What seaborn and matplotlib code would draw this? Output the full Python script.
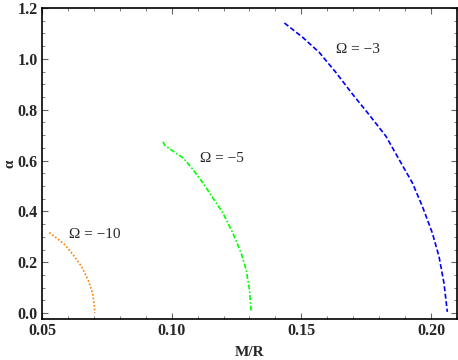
import matplotlib
matplotlib.use("Agg")
import matplotlib.pyplot as plt
import seaborn as sns
import pandas as pd
from matplotlib.ticker import MultipleLocator

sns.set_theme(style="white")
plt.rcParams['font.family'] = ['Liberation Serif', 'DejaVu Serif']
plt.rcParams['mathtext.fontset'] = 'stix'

# Omega = -10 (orange, dotted)
x10 = [0.05281, 0.05565, 0.05885, 0.06204, 0.06527, 0.06781, 0.06950, 0.07012, 0.07038]
y10 = [0.317, 0.295, 0.2685, 0.229, 0.183, 0.130, 0.078, 0.038, 0.001]
# Omega = -5 (green, dash-dot)
x5 = [0.09667, 0.09731, 0.10050, 0.10435, 0.10820, 0.11204, 0.11588, 0.11973, 0.12358, 0.12680, 0.12873, 0.13000, 0.13065]
y5 = [0.674, 0.6605, 0.637, 0.611, 0.565, 0.512, 0.453, 0.394, 0.315, 0.236, 0.170, 0.091, 0.005]
# Omega = -3 (blue, dashed)
x3 = [0.14346, 0.15050, 0.15692, 0.16335, 0.16973, 0.17615, 0.18258, 0.18769, 0.19281, 0.19665, 0.20050, 0.20308, 0.20500, 0.20627]
y3 = [1.141, 1.0845, 1.025, 0.946, 0.861, 0.780, 0.696, 0.604, 0.512, 0.420, 0.315, 0.222, 0.117, 0.005]

labels = ["Ω = −10", "Ω = −5", "Ω = −3"]
label_pos_x = [0.0704, 0.1192, 0.1719]
label_pos_y = [0.310, 0.610, 1.035]

fig = plt.figure(figsize=(4.58, 3.6), dpi=100)
ax = fig.add_axes([0.0917, 0.1139, 0.9061, 0.8639])

series = [
    (x10, y10, "#FF8000", (0, (1, 1.2))),
    (x5, y5, "#00FF00", (0, (3, 1.2, 1, 1.2))),
    (x3, y3, "#0000FF", (0, (3, 1.5))),
]
for xs, ys, col, ls in series:
    df = pd.DataFrame({"x": xs, "y": ys})
    sns.lineplot(data=df, x="x", y="y", sort=False, color=col, linestyle=ls,
                 linewidth=1.2, ax=ax, estimator=None)

for lab, lx, ly in zip(labels, label_pos_x, label_pos_y):
    ax.text(lx, ly, lab, ha="center", va="center", fontsize=11)

ax.set_xlim(0.05, 0.21)
ax.set_ylim(-0.023, 1.2)
ax.xaxis.set_minor_locator(MultipleLocator(0.01))
ax.yaxis.set_minor_locator(MultipleLocator(0.05))
ax.set_xticks([0.05, 0.10, 0.15, 0.20])
ax.set_xticklabels(["0.05", "0.10", "0.15", "0.20"])
ax.set_yticks([0.0, 0.2, 0.4, 0.6, 0.8, 1.0, 1.2])
ax.set_yticklabels(["0.0", "0.2", "0.4", "0.6", "0.8", "1.0", "1.2"])
ax.tick_params(which="both", direction="in", top=True, right=True, bottom=True, left=True,
               color="#666666")
ax.tick_params(which="major", length=4, width=0.8, labelsize=11.5, pad=3)
ax.tick_params(which="minor", length=2, width=0.6)
for t in ax.get_xticklabels() + ax.get_yticklabels():
    t.set_fontweight("bold")
for s in ax.spines.values():
    s.set_color("black")
    s.set_linewidth(1.2)
ax.set_xlabel("M/R", fontsize=11, fontweight="bold", labelpad=5)
ax.set_ylabel("α", fontsize=11, fontweight="bold", labelpad=1)
ax.grid(False)

fig.savefig("out.png", dpi=100)
